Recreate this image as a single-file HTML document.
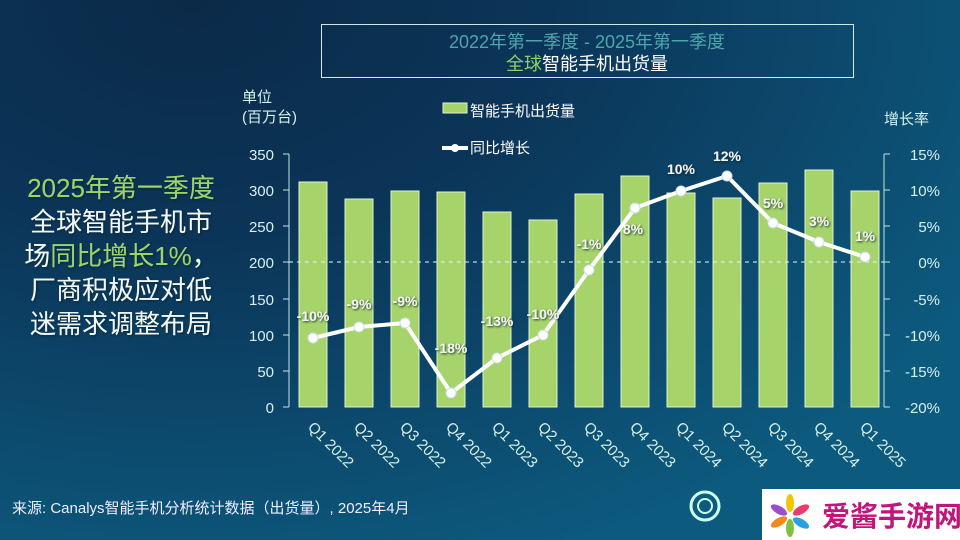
<!DOCTYPE html>
<html><head><meta charset="utf-8"><style>
html,body{margin:0;padding:0;width:960px;height:540px;overflow:hidden}
body{background:radial-gradient(ellipse 900px 600px at 20% 0%,#0b2a48 0%,#0b3558 40%,#0c5a7e 100%);font-family:"Liberation Sans","Noto Sans CJK SC",sans-serif}
svg{position:absolute;left:0;top:0}
text{font-family:"Liberation Sans","Noto Sans CJK SC",sans-serif}
</style></head><body>
<svg width="960" height="540" viewBox="0 0 960 540">
<defs><filter id="sh"><feDropShadow dx="1" dy="1" stdDeviation="1" flood-color="#123" flood-opacity="0.9"/></filter></defs>
<rect x="321.5" y="24.5" width="532" height="53" fill="none" stroke="#cfe8e8" stroke-width="1"/>
<text x="587" y="48" text-anchor="middle" font-size="18" fill="#4fa5ad">2022年第一季度 - 2025年第一季度</text>
<text x="587" y="70" text-anchor="middle" font-size="18" fill="#fff"><tspan fill="#8fcf6a">全球</tspan>智能手机出货量</text>
<g font-size="26" fill="#f0f8f5" text-anchor="middle" filter="url(#sh)">
<text x="121" y="197" fill="#9ad56c">2025年第一季度</text>
<text x="121" y="231">全球智能手机市</text>
<text x="121" y="265" text-anchor="middle">场<tspan fill="#9ad56c">同比增长1%</tspan>，</text>
<text x="121" y="299">厂商积极应对低</text>
<text x="121" y="333">迷需求调整布局</text>
</g>
<g font-size="15" fill="#d8f0ec">
<text x="242" y="102">单位</text><text x="242" y="122">(百万台)</text>
<text x="884" y="124">增长率</text>
</g>
<rect x="443" y="103" width="24" height="10" fill="#a6d46a" stroke="#e0f0d0"/>
<text x="470" y="116" font-size="15" fill="#fff">智能手机出货量</text>
<line x1="442" y1="148" x2="468" y2="148" stroke="#fff" stroke-width="4"/><circle cx="455" cy="148" r="4" fill="#fff"/>
<text x="470" y="153" font-size="15" fill="#fff">同比增长</text>
<g stroke="#bfe6e0" stroke-width="1">
<line x1="289" y1="154" x2="289" y2="407"/>
<line x1="884" y1="154" x2="884" y2="407"/>
<line x1="283" y1="154" x2="289" y2="154"/><line x1="283" y1="190" x2="289" y2="190"/><line x1="283" y1="226" x2="289" y2="226"/><line x1="283" y1="262" x2="289" y2="262"/><line x1="283" y1="299" x2="289" y2="299"/><line x1="283" y1="335" x2="289" y2="335"/><line x1="283" y1="371" x2="289" y2="371"/><line x1="283" y1="407" x2="289" y2="407"/>
<line x1="884" y1="154" x2="890" y2="154"/><line x1="884" y1="190" x2="890" y2="190"/><line x1="884" y1="226" x2="890" y2="226"/><line x1="884" y1="262" x2="890" y2="262"/><line x1="884" y1="299" x2="890" y2="299"/><line x1="884" y1="335" x2="890" y2="335"/><line x1="884" y1="371" x2="890" y2="371"/><line x1="884" y1="407" x2="890" y2="407"/>
</g>
<g font-size="15" fill="#d8f0ec" text-anchor="end">
<text x="274" y="160">350</text><text x="274" y="196">300</text><text x="274" y="232">250</text><text x="274" y="268">200</text><text x="274" y="305">150</text><text x="274" y="341">100</text><text x="274" y="377">50</text><text x="274" y="413">0</text>
</g>
<g font-size="15" fill="#d8f0ec" text-anchor="end">
<text x="940" y="160">15%</text><text x="940" y="196">10%</text><text x="940" y="232">5%</text><text x="940" y="268">0%</text><text x="940" y="305">-5%</text><text x="940" y="341">-10%</text><text x="940" y="377">-15%</text><text x="940" y="413">-20%</text>
</g>
<g fill="#a6d46a" stroke="#e0f0d0" stroke-width="1">
<rect x="299" y="182" width="28" height="225"/>
<rect x="345" y="199" width="28" height="208"/>
<rect x="391" y="191" width="28" height="216"/>
<rect x="437" y="192" width="28" height="215"/>
<rect x="483" y="212" width="28" height="195"/>
<rect x="529" y="220" width="28" height="187"/>
<rect x="575" y="194" width="28" height="213"/>
<rect x="621" y="176" width="28" height="231"/>
<rect x="667" y="193" width="28" height="214"/>
<rect x="713" y="198" width="28" height="209"/>
<rect x="759" y="183" width="28" height="224"/>
<rect x="805" y="170" width="28" height="237"/>
<rect x="851" y="191" width="28" height="216"/>
</g>
<line x1="289" y1="262" x2="884" y2="262" stroke="#e8f4f4" stroke-width="1" stroke-dasharray="4,4"/>
<polyline fill="none" stroke="#fff" stroke-width="4" stroke-linejoin="round" points="313,338 359,327 405,323 451,393 497,358 543,335 589,270 635,208 681,191 727,176 773,223 819,242 865,257"/>
<g fill="#fff" stroke="#cde" stroke-width="1">
<circle cx="313" cy="338" r="5"/><circle cx="359" cy="327" r="5"/><circle cx="405" cy="323" r="5"/><circle cx="451" cy="393" r="5"/><circle cx="497" cy="358" r="5"/><circle cx="543" cy="335" r="5"/><circle cx="589" cy="270" r="5"/><circle cx="635" cy="208" r="5"/><circle cx="681" cy="191" r="5"/><circle cx="727" cy="176" r="5"/><circle cx="773" cy="223" r="5"/><circle cx="819" cy="242" r="5"/><circle cx="865" cy="257" r="5"/>
</g>
<g font-size="14" font-weight="bold" fill="#f4f4f0" text-anchor="middle" filter="url(#sh)">
<text x="313" y="321">-10%</text><text x="359" y="309">-9%</text><text x="405" y="306">-9%</text><text x="451" y="353">-18%</text><text x="497" y="326">-13%</text><text x="543" y="319">-10%</text><text x="589" y="249">-1%</text><text x="633" y="234">8%</text><text x="681" y="174">10%</text><text x="727" y="161">12%</text><text x="773" y="208">5%</text><text x="819" y="226">3%</text><text x="865" y="241">1%</text>
</g>
<g font-size="15" fill="#d8f0ec">
<text transform="translate(307,428) rotate(45)">Q1 2022</text>
<text transform="translate(353,428) rotate(45)">Q2 2022</text>
<text transform="translate(399,428) rotate(45)">Q3 2022</text>
<text transform="translate(445,428) rotate(45)">Q4 2022</text>
<text transform="translate(491,428) rotate(45)">Q1 2023</text>
<text transform="translate(537,428) rotate(45)">Q2 2023</text>
<text transform="translate(583,428) rotate(45)">Q3 2023</text>
<text transform="translate(629,428) rotate(45)">Q4 2023</text>
<text transform="translate(675,428) rotate(45)">Q1 2024</text>
<text transform="translate(721,428) rotate(45)">Q2 2024</text>
<text transform="translate(767,428) rotate(45)">Q3 2024</text>
<text transform="translate(813,428) rotate(45)">Q4 2024</text>
<text transform="translate(859,428) rotate(45)">Q1 2025</text>
</g>
<text x="12" y="513" font-size="15" fill="#eef">来源: Canalys智能手机分析统计数据（出货量）, 2025年4月</text>
<circle cx="705" cy="506" r="14" fill="none" stroke="#cfe" stroke-width="3"/>
<circle cx="705" cy="506" r="7" fill="none" stroke="#cfe" stroke-width="2"/>
<rect x="762" y="489" width="198" height="51" fill="#fff"/>
<g transform="translate(790,515)">
<ellipse cx="0" cy="-12" rx="4" ry="9" fill="#f5c400"/>
<ellipse cx="11" cy="-5" rx="4" ry="9" fill="#e83b6f" transform="rotate(60 11 -5)"/>
<ellipse cx="11" cy="8" rx="4" ry="9" fill="#2aa0e0" transform="rotate(120 11 8)"/>
<ellipse cx="0" cy="13" rx="4" ry="9" fill="#7cc242"/>
<ellipse cx="-11" cy="7" rx="4" ry="9" fill="#f08a1c" transform="rotate(60 -11 7)"/>
<ellipse cx="-11" cy="-5" rx="4" ry="9" fill="#9b4fc8" transform="rotate(120 -11 -5)"/>
</g>
<text x="822" y="526" font-size="28" font-weight="bold" fill="#c0157a">爱酱手游网</text>
</svg>
</body></html>
